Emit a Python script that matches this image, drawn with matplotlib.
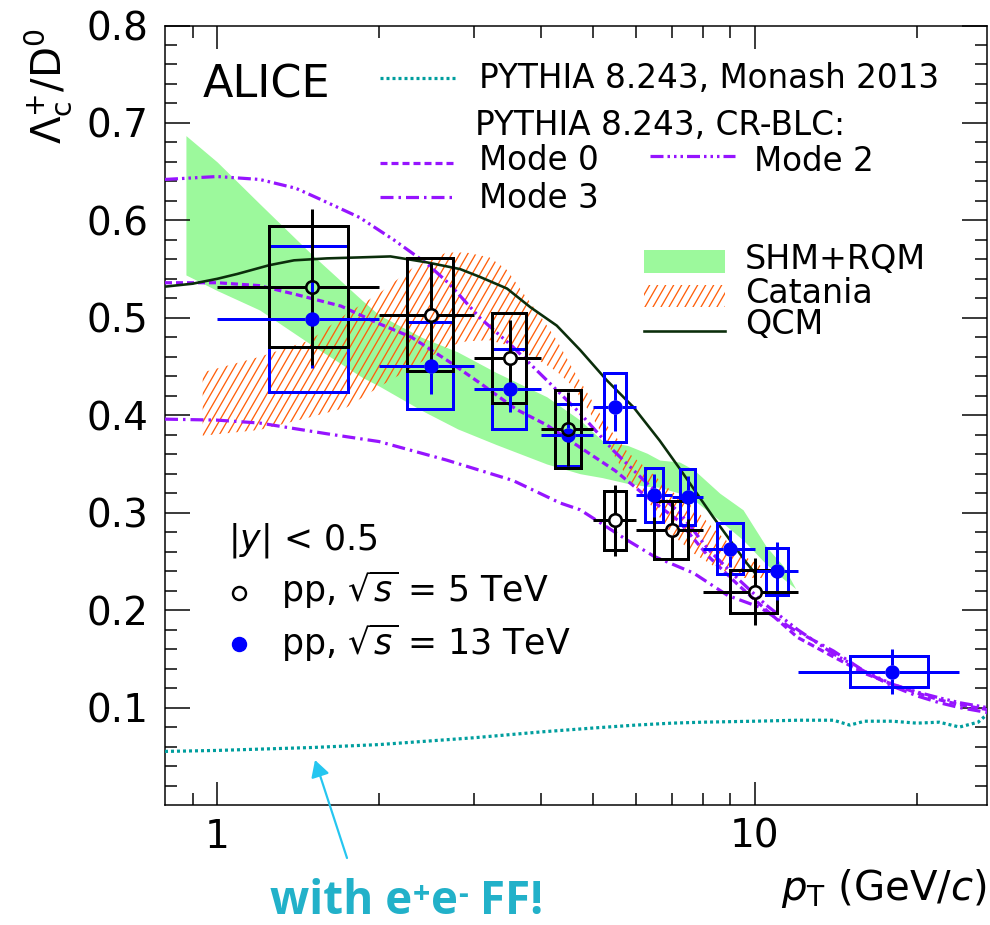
import numpy as np
import matplotlib
matplotlib.use("Agg")
import matplotlib.pyplot as plt
from matplotlib.patches import Rectangle, Polygon, FancyArrowPatch
from matplotlib.collections import LineCollection
from matplotlib.lines import Line2D
from matplotlib.ticker import FixedLocator, FixedFormatter, NullFormatter

# ---------------- data ----------------
# pp 13 TeV (blue, filled)
x13 = [1.5, 2.5, 3.5, 4.5, 5.5, 6.5, 7.5, 9.0, 11.0, 18.0]
xlo13 = [1, 2, 3, 4, 5, 6, 7, 8, 10, 12]
xhi13 = [2, 3, 4, 5, 6, 7, 8, 10, 12, 24]
y13 = [0.499, 0.451, 0.427, 0.380, 0.408, 0.318, 0.316, 0.263, 0.240, 0.137]
stat13 = [0.050, 0.029, 0.024, 0.020, 0.024, 0.022, 0.022, 0.019, 0.030, 0.023]
syst13 = [0.075, 0.045, 0.041, 0.032, 0.035, 0.028, 0.029, 0.026, 0.024, 0.016]

# pp 5 TeV (black, open)
x5 = [1.5, 2.5, 3.5, 4.5, 5.5, 7.0, 10.0]
xlo5 = [1, 2, 3, 4, 5, 6, 8]
xhi5 = [2, 3, 4, 5, 6, 8, 12]
y5 = [0.532, 0.503, 0.459, 0.386, 0.292, 0.282, 0.219]
stat5 = [0.080, 0.053, 0.039, 0.038, 0.036, 0.031, 0.034]
syst5 = [0.062, 0.058, 0.046, 0.040, 0.030, 0.030, 0.022]

# SHM+RQM band
shm_x = [0.875, 1.0, 1.2, 1.5, 1.86, 2.0, 2.4, 2.8, 3.3, 4.1, 4.73, 5.2, 5.8, 6.3, 6.65, 7.24, 7.7, 8.6, 9.5, 10.5, 11.3, 11.9]
shm_hi = [0.687, 0.660, 0.617, 0.565, 0.518, 0.503, 0.480, 0.465, 0.444, 0.419, 0.395, 0.374, 0.369, 0.361, 0.354, 0.352, 0.344, 0.320, 0.303, 0.265, 0.245, 0.222]
shm_lo = [0.544, 0.528, 0.508, 0.472, 0.439, 0.430, 0.405, 0.386, 0.370, 0.350, 0.340, 0.336, 0.330, 0.327, 0.326, 0.320, 0.313, 0.292, 0.272, 0.247, 0.232, 0.222]

# Catania band
cat_x = [0.94, 1.2, 1.49, 1.74, 2.0, 2.32, 2.67, 2.91, 3.21, 3.46, 3.71, 4.0, 4.28, 4.6, 4.94, 5.3, 5.8, 6.3, 7.0, 7.7, 8.5, 9.5, 10.5]
cat_hi = [0.444, 0.460, 0.477, 0.504, 0.525, 0.552, 0.567, 0.567, 0.562, 0.549, 0.525, 0.501, 0.477, 0.446, 0.418, 0.390, 0.362, 0.345, 0.322, 0.305, 0.280, 0.256, 0.242]
cat_lo = [0.379, 0.385, 0.398, 0.408, 0.429, 0.450, 0.470, 0.476, 0.477, 0.472, 0.465, 0.455, 0.445, 0.429, 0.402, 0.372, 0.335, 0.313, 0.278, 0.258, 0.243, 0.233, 0.233]

# QCM
qcm_x = [0.8, 0.9, 1.0, 1.09, 1.25, 1.39, 1.6, 1.84, 2.1, 2.45, 2.83, 3.08, 3.46, 3.82, 4.28, 4.73, 5.3, 5.95, 6.65, 7.25, 8.35, 9.66, 10.0]
qcm_y = [0.532, 0.535, 0.540, 0.545, 0.554, 0.559, 0.561, 0.562, 0.563, 0.557, 0.550, 0.542, 0.530, 0.511, 0.492, 0.467, 0.436, 0.408, 0.374, 0.345, 0.296, 0.248, 0.238]

# PYTHIA 8.243 Monash 2013
mon_x = [0.8, 1.0, 1.5, 2.0, 3.0, 4.0, 5.0, 6.0, 7.0, 8.0, 10.0, 12.0, 14.0, 15.0, 16.0, 18.0, 20.0, 22.0, 24.0, 26.0, 27.0]
mon_y = [0.055, 0.056, 0.059, 0.062, 0.069, 0.075, 0.079, 0.082, 0.084, 0.085, 0.086, 0.087, 0.087, 0.082, 0.086, 0.086, 0.084, 0.085, 0.080, 0.085, 0.093]

# PYTHIA 8.243 CR-BLC modes
m0_x = [0.8, 1.0, 1.2, 1.4, 1.7, 2.0, 2.3, 2.7, 3.1, 3.6, 4.1, 4.7, 5.5, 6.3, 7.2, 8.2, 9.3, 10.5, 12, 14, 16, 18, 20, 22, 24, 27]
m0_y = [0.536, 0.536, 0.533, 0.524, 0.512, 0.494, 0.480, 0.455, 0.432, 0.406, 0.390, 0.368, 0.343, 0.316, 0.292, 0.255, 0.226, 0.200, 0.172, 0.152, 0.135, 0.124, 0.115, 0.108, 0.103, 0.098]
m2_x = [0.8, 1.0, 1.2, 1.4, 1.55, 1.84, 2.13, 2.45, 2.7, 3.08, 3.55, 4.1, 4.73, 5.45, 6.3, 7.24, 8.2, 9.3, 10.5, 12, 14, 16, 18, 20, 22, 24, 27]
m2_y = [0.642, 0.645, 0.642, 0.633, 0.622, 0.603, 0.580, 0.556, 0.535, 0.500, 0.470, 0.436, 0.402, 0.364, 0.330, 0.300, 0.262, 0.232, 0.205, 0.180, 0.155, 0.137, 0.124, 0.116, 0.110, 0.105, 0.100]
m3_x = [0.8, 1.0, 1.2, 1.6, 2.0, 2.67, 3.55, 4.34, 4.73, 5.78, 6.5, 7.69, 8.9, 10.2, 11.8, 14, 16, 18, 20, 22, 24, 27]
m3_y = [0.396, 0.395, 0.392, 0.381, 0.373, 0.354, 0.333, 0.310, 0.303, 0.272, 0.255, 0.238, 0.215, 0.203, 0.180, 0.158, 0.137, 0.122, 0.112, 0.105, 0.100, 0.095]

# ---------------- style ----------------
W, H = 990, 925
plt.rcParams['font.family'] = ['DejaVu Sans']
plt.rcParams['mathtext.fontset'] = 'dejavusans'
plt.rcParams['mathtext.default'] = 'regular'
plt.rcParams['lines.scale_dashes'] = False

PX = 0.72  # points per pixel at dpi 100
BLUE = '#0000ff'
PURPLE = '#9614ff'
TEAL = '#009e9e'
GREEN = '#9cf99c'
ORANGE = '#ff5f0a'
QCMC = '#0b2e0b'
ANNOT = '#22b1c9'

fig = plt.figure(figsize=(W / 100, H / 100), dpi=100)
AX_L, AX_R, AX_T, AX_B = 165, 987, 25.5, 805
ax = fig.add_axes([AX_L / W, 1 - AX_B / H, (AX_R - AX_L) / W, (AX_B - AX_T) / H])
ax.set_xscale('log')
XMIN, XMAX, YMIN, YMAX = 0.8, 27.0, 0.0, 0.8
ax.set_xlim(XMIN, XMAX)
ax.set_ylim(YMIN, YMAX)


def fp(px, py):
    return (px / W, 1 - py / H)


TAN = np.tan(np.radians(60))

# ---------------- models ----------------
ax.fill_between(shm_x, shm_lo, shm_hi, color=GREEN, lw=0, zorder=1)

cat_poly = Polygon(list(zip(cat_x, cat_hi)) + list(zip(cat_x[::-1], cat_lo[::-1])),
                   closed=True, facecolor='none', edgecolor='none', transform=ax.transData)
ax.add_patch(cat_poly)

axw = AX_R - AX_L
axh = AX_B - AX_T
slope_dx = (axh / TAN) / axw
starts = np.arange(-0.7, 1.0, 8.0 / axw)
hatch = LineCollection([[(a, 0), (a + slope_dx, 1)] for a in starts], colors=ORANGE,
                       linewidths=1.3 * PX, transform=ax.transAxes, zorder=2)
ax.add_collection(hatch)
hatch.set_clip_path(cat_poly)

ls_m0 = (0, (7 * PX, 4 * PX))
ls_m2 = (0, (13 * PX, 4 * PX, 2.5 * PX, 4 * PX, 2.5 * PX, 4 * PX, 2.5 * PX, 4 * PX))
ls_m3 = (0, (13 * PX, 5 * PX, 2.5 * PX, 5 * PX))
ls_mon = (0, (3 * PX, 3 * PX))
LWP = 3.2 * PX

ax.plot(mon_x, mon_y, color=TEAL, lw=LWP, linestyle=ls_mon, dash_capstyle='butt', zorder=3)
ax.plot(m0_x, m0_y, color=PURPLE, lw=LWP, linestyle=ls_m0, dash_capstyle='butt', zorder=3)
ax.plot(m2_x, m2_y, color=PURPLE, lw=LWP, linestyle=ls_m2, dash_capstyle='butt', zorder=3)
ax.plot(m3_x, m3_y, color=PURPLE, lw=LWP, linestyle=ls_m3, dash_capstyle='butt', zorder=3)
ax.plot(qcm_x, qcm_y, color=QCMC, lw=2.6 * PX, zorder=3)

# ---------------- data ----------------
gap_y = 7.0 * (YMAX - YMIN) / axh
gap_f = 10 ** (7.0 * np.log10(XMAX / XMIN) / axw)
LWD = 3 * PX


def draw_set(x, xlo, xhi, y, stat, syst, color, filled, z):
    for xi, lo, hi, yi, sy in zip(x, xlo, xhi, y, syst):
        hw = (hi - lo) / 4.0
        ax.add_patch(Rectangle((xi - hw, yi - sy), 2 * hw, 2 * sy, fill=False,
                               edgecolor=color, lw=LWD, zorder=z))
    segs = []
    for xi, lo, hi, yi, st in zip(x, xlo, xhi, y, stat):
        segs.append([(xi, yi - st), (xi, yi - gap_y)])
        segs.append([(xi, yi + gap_y), (xi, yi + st)])
        segs.append([(lo, yi), (xi / gap_f, yi)])
        segs.append([(xi * gap_f, yi), (hi, yi)])
    ax.add_collection(LineCollection(segs, colors=color, linewidths=LWD, zorder=z + 0.5))
    if filled:
        ax.plot(x, y, 'o', ms=13 * PX, color=color, mec=color, zorder=z + 2)
    else:
        ax.plot(x, y, 'o', ms=12.5 * PX, mfc='none', mec=color, mew=2.6 * PX, zorder=z + 2)


draw_set(x13, xlo13, xhi13, y13, stat13, syst13, BLUE, True, 4)
draw_set(x5, xlo5, xhi5, y5, stat5, syst5, 'black', False, 4.2)

# ---------------- axes ----------------
ax.xaxis.set_major_locator(FixedLocator([1, 10]))
ax.xaxis.set_major_formatter(FixedFormatter(['1', '10']))
ax.xaxis.set_minor_locator(FixedLocator([0.9, 2, 3, 4, 5, 6, 7, 8, 9, 20]))
ax.xaxis.set_minor_formatter(NullFormatter())
ymaj = [0.1, 0.2, 0.3, 0.4, 0.5, 0.6, 0.7, 0.8]
ax.yaxis.set_major_locator(FixedLocator(ymaj))
ax.yaxis.set_major_formatter(FixedFormatter(['%.1f' % v for v in ymaj]))
ymin_t = [round(v, 2) for v in np.arange(0.02, 0.8, 0.02) if abs(v * 10 - round(v * 10)) > 1e-6]
ax.yaxis.set_minor_locator(FixedLocator(ymin_t))
ax.tick_params(which='both', direction='in', top=True, right=True, width=1.5 * PX, labelsize=28)
ax.tick_params(axis='y', which='major', length=25 * PX, pad=12)
ax.tick_params(axis='y', which='minor', length=12 * PX)
ax.tick_params(axis='x', which='major', length=23 * PX, pad=9)
ax.tick_params(axis='x', which='minor', length=12 * PX)
for s in ax.spines.values():
    s.set_linewidth(1.5 * PX)

fig.text(*fp(987, 900), r'$\mathit{p}_{\rm T}$ (GeV/$\mathit{c}$)', fontsize=29,
         ha='right', va='baseline')
fig.text(*fp(48.5, 28), r'$\Lambda_{\rm c}^{+}/\mathrm{D}^{0}$', fontsize=29, rotation=90,
         ha='center', va='top')

# ---------------- legends ----------------
fig.text(*fp(203, 97), 'ALICE', fontsize=32, ha='left', va='baseline')

LEG = 23.5


def fline(x0, x1, yy, **kw):
    (a, b), (c, d) = fp(x0, yy), fp(x1, yy)
    fig.add_artist(Line2D([a, c], [b, d], transform=fig.transFigure, **kw))


fline(380, 457, 78, color=TEAL, lw=LWP, linestyle=ls_mon, dash_capstyle='butt')
fig.text(*fp(479, 88), 'PYTHIA 8.243, Monash 2013', fontsize=LEG, ha='left', va='baseline')
fig.text(*fp(475, 135), 'PYTHIA 8.243, CR-BLC:', fontsize=LEG, ha='left', va='baseline')
fline(380, 455, 163, color=PURPLE, lw=LWP, linestyle=ls_m0, dash_capstyle='butt')
fig.text(*fp(479, 170), 'Mode 0', fontsize=LEG, ha='left', va='baseline')
fline(650, 735, 156, color=PURPLE, lw=LWP, linestyle=ls_m2, dash_capstyle='butt')
fig.text(*fp(754, 171), 'Mode 2', fontsize=LEG, ha='left', va='baseline')
fline(380, 455, 197, color=PURPLE, lw=LWP, linestyle=ls_m3, dash_capstyle='butt')
fig.text(*fp(479, 208), 'Mode 3', fontsize=LEG, ha='left', va='baseline')

# right legend
x0, y0 = fp(644, 272.7)
x1, y1 = fp(725, 250)
fig.add_artist(Rectangle((x0, y0), x1 - x0, y1 - y0, transform=fig.transFigure,
                         facecolor=GREEN, edgecolor='none'))
fig.text(*fp(745, 269), 'SHM+RQM', fontsize=LEG + 0.5, ha='left', va='baseline')

RX0, RX1, RY0, RY1 = 644, 725, 285, 307.3
cx0, cy0 = fp(RX0, RY1)
cx1, cy1 = fp(RX1, RY0)
crect = Rectangle((cx0, cy0), cx1 - cx0, cy1 - cy0, transform=fig.transFigure,
                  facecolor='none', edgecolor='none')
fig.add_artist(crect)
ybot, ytop = RY1 + 4, RY0 - 4
ddx = (ybot - ytop) / TAN
lsegs = [[fp(a, ybot), fp(a + ddx, ytop)] for a in np.arange(RX0 - ddx - 8, RX1 + 8, 8.0)]
lh = LineCollection(lsegs, colors=ORANGE, linewidths=1.3 * PX, transform=fig.transFigure)
fig.add_artist(lh)
lh.set_clip_path(crect)
fig.text(*fp(745, 303), 'Catania', fontsize=LEG + 0.5, ha='left', va='baseline')
fline(644, 725, 330.7, color=QCMC, lw=2.6 * PX)
fig.text(*fp(745, 334), 'QCM', fontsize=LEG + 0.5, ha='left', va='baseline')

# bottom-left legend
fig.text(*fp(228, 550), r'$|\mathit{y}|$ < 0.5', fontsize=25, ha='left', va='baseline')
mx, my = fp(239, 592.7)
fig.add_artist(Line2D([mx], [my], marker='o', ms=13 * PX, mfc='none', mec='black',
                      mew=2.4 * PX, transform=fig.transFigure))
fig.text(*fp(281, 601.7), r'pp, $\sqrt{\mathit{s}}$ = 5 TeV', fontsize=25, ha='left',
         va='baseline')
mx, my = fp(239, 644.3)
fig.add_artist(Line2D([mx], [my], marker='o', ms=14 * PX, color=BLUE,
                      transform=fig.transFigure))
fig.text(*fp(281, 655), r'pp, $\sqrt{\mathit{s}}$ = 13 TeV', fontsize=25, ha='left',
         va='baseline')

# annotation
arr = FancyArrowPatch(fp(347, 858), fp(315, 760), transform=fig.transFigure,
                      arrowstyle='-|>,head_length=0.5,head_width=0.28', mutation_scale=20,
                      color='#25c6f0', lw=2.2 * PX, shrinkA=0, shrinkB=0)
fig.add_artist(arr)

afont = dict(fontfamily=['Open Sans', 'DejaVu Sans'], fontweight='bold', color=ANNOT,
             annotation_clip=False)
t1 = ax.annotate('with e', xy=fp(270, 914), xycoords='figure fraction', fontsize=33,
                 ha='left', va='baseline', **afont)
t2 = ax.annotate('+', xy=(1, 1), xycoords=t1, xytext=(0.5, -1.5), textcoords='offset points',
                 fontsize=22, ha='left', va='top', **afont)
t3 = ax.annotate('e', xy=(1, 0), xycoords=(t2, t1), xytext=(0.5, 0),
                 textcoords='offset points', fontsize=33, ha='left', va='bottom', **afont)
t4 = ax.annotate('-', xy=(1, 1), xycoords=(t3, t1), xytext=(0.5, -1.5),
                 textcoords='offset points', fontsize=22, ha='left', va='top', **afont)
t5 = ax.annotate(' FF!', xy=(1, 0), xycoords=(t4, t1), xytext=(0, 0),
                 textcoords='offset points', fontsize=33, ha='left', va='bottom', **afont)

fig.savefig('out.png', dpi=100)
